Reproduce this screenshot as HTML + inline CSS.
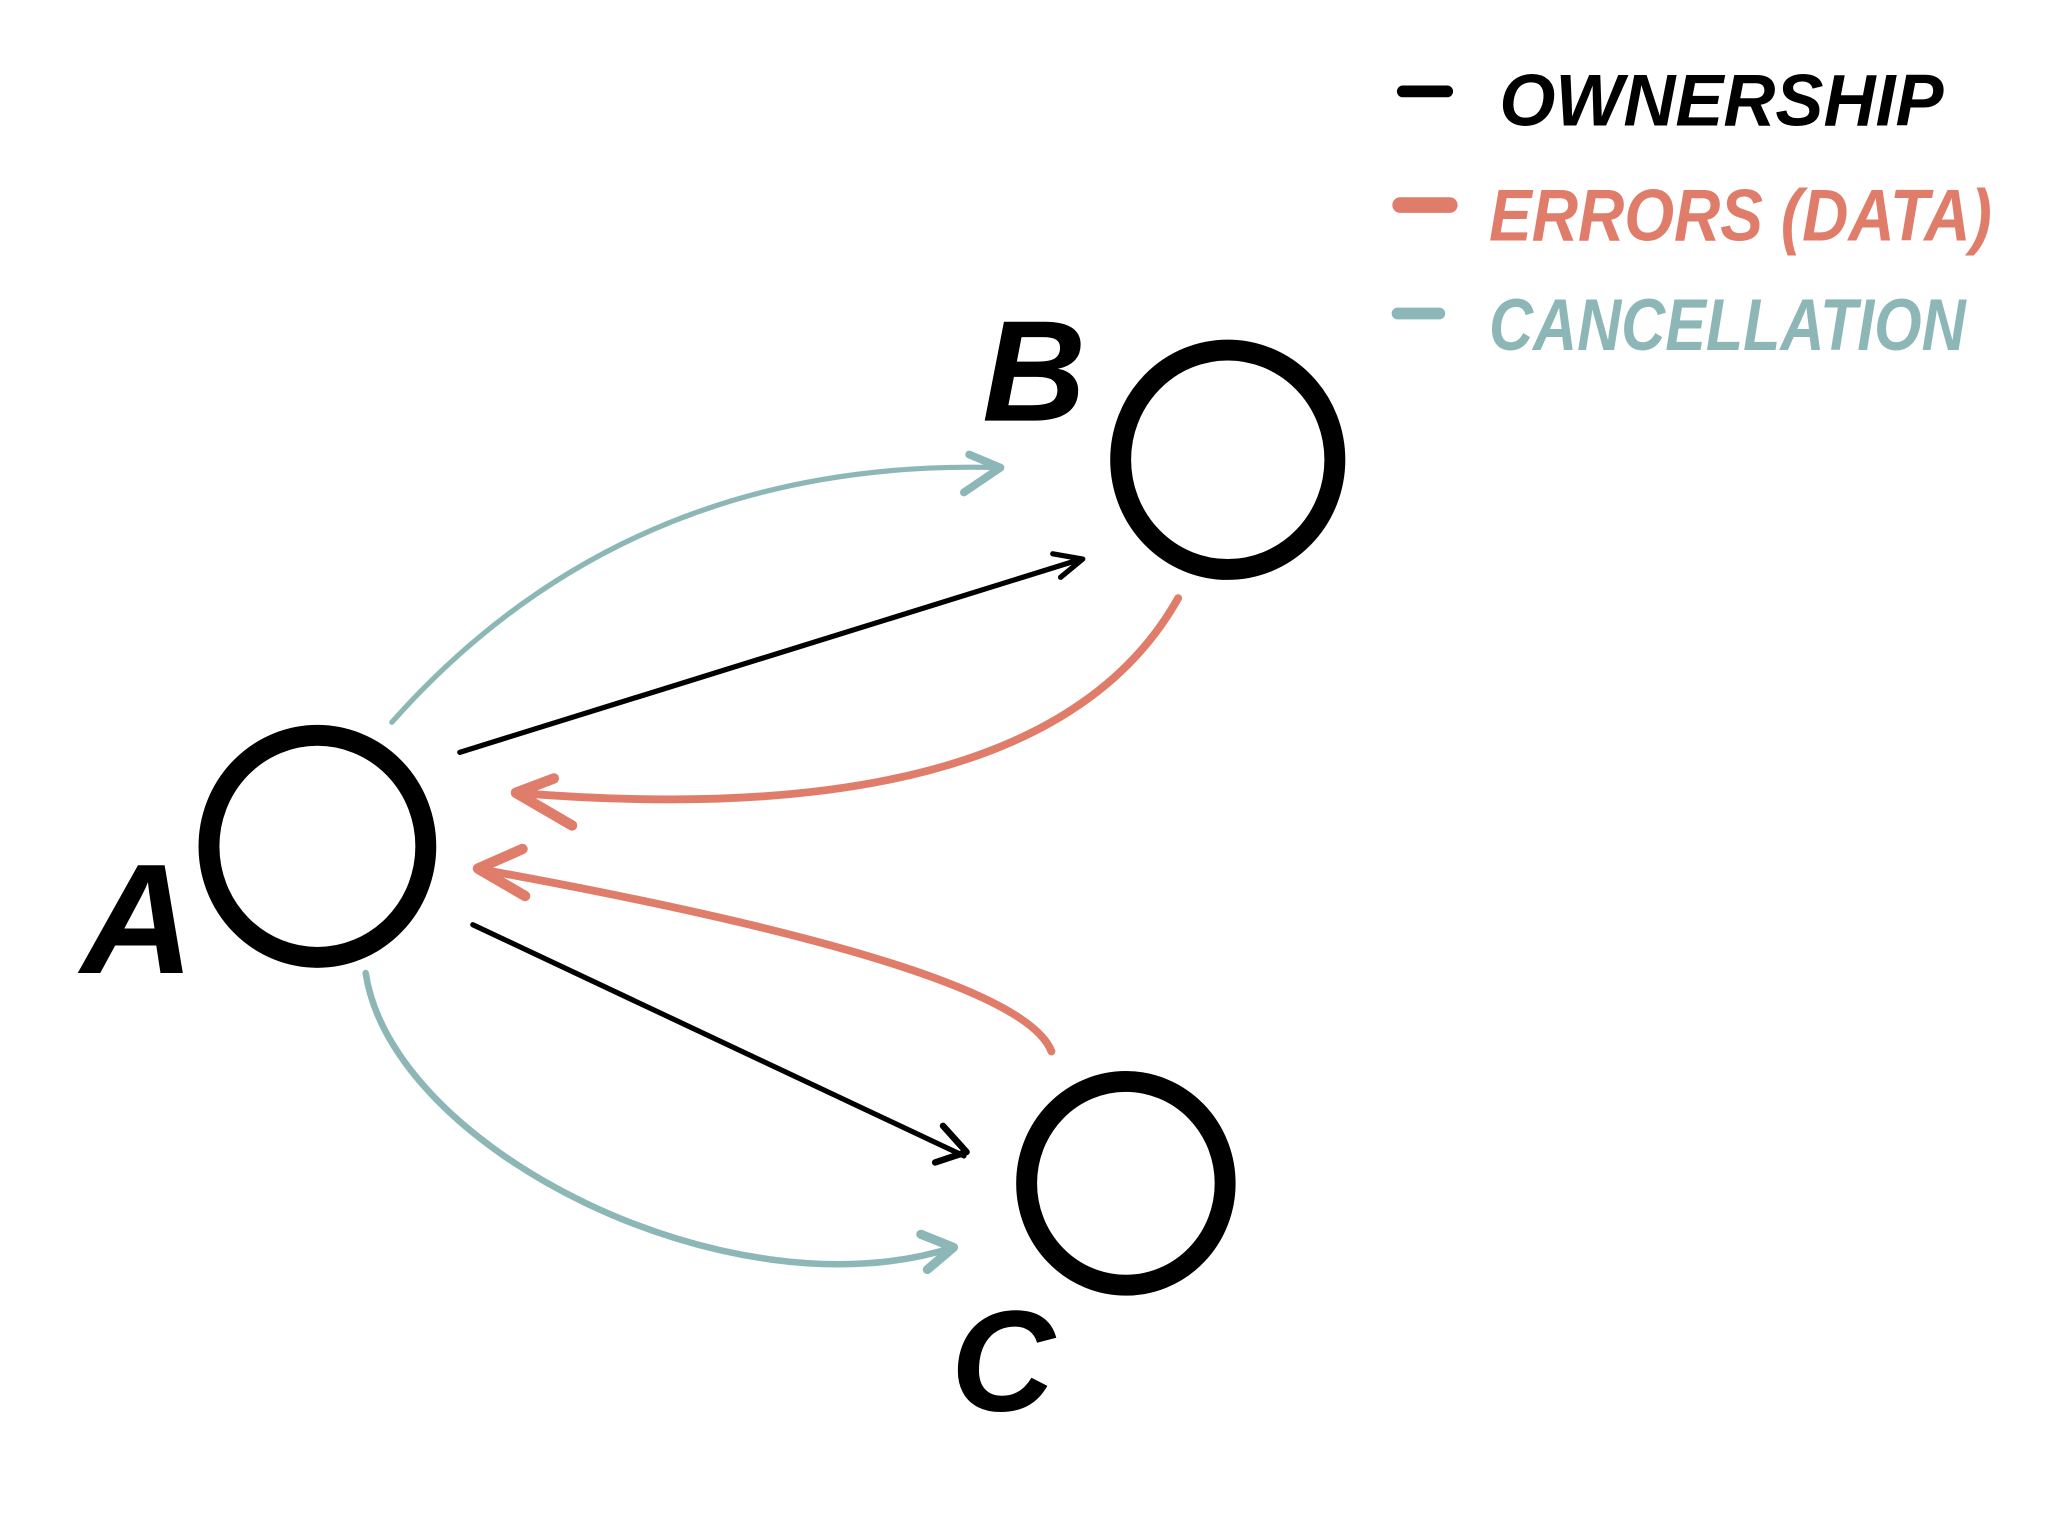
<!DOCTYPE html>
<html><head><meta charset="utf-8"><style>
html,body{margin:0;padding:0;background:#fff;width:2048px;height:1536px;overflow:hidden}
svg{display:block}
text{font-family:"Liberation Sans",sans-serif;font-weight:bold;font-style:italic}
</style></head><body>
<svg width="2048" height="1536" viewBox="0 0 1568 1176" xmlns="http://www.w3.org/2000/svg">
<rect width="1568" height="1176" fill="#fff"/>
<path d="M1074 70 L1108 70" stroke="#000" stroke-width="9" stroke-linecap="round"/>
<path d="M1072 157 L1110 157" stroke="#e07c6a" stroke-width="12" stroke-linecap="round"/>
<path d="M1070 240 L1102 240" stroke="#8db7b7" stroke-width="9" stroke-linecap="round"/>
<text x="1148" y="96" font-size="56" fill="#000" textLength="340" lengthAdjust="spacingAndGlyphs">OWNERSHIP</text>
<text x="1140" y="184" font-size="56" fill="#e07c6a" textLength="385" lengthAdjust="spacingAndGlyphs">ERRORS (DATA)</text>
<text x="1140" y="268" font-size="56" fill="#8db7b7" textLength="365" lengthAdjust="spacingAndGlyphs">CANCELLATION</text>
<ellipse cx="243" cy="648" rx="83" ry="85" fill="none" stroke="#000" stroke-width="16"/>
<ellipse cx="940" cy="352" rx="82" ry="84" fill="none" stroke="#000" stroke-width="16"/>
<ellipse cx="862" cy="906" rx="76" ry="78" fill="none" stroke="#000" stroke-width="16"/>
<text x="62" y="745" font-size="120" fill="#000">A</text>
<text x="752" y="322" font-size="110" fill="#000">B</text>
<text x="728" y="1080" font-size="110" fill="#000">C</text>
<g fill="none" stroke-linecap="round" stroke-linejoin="round">
<path d="M300 553 Q480 350 765 358" stroke="#8db7b7" stroke-width="4"/>
<path d="M742 348 L766 358 L738 377" stroke="#8db7b7" stroke-width="6"/>
<path d="M352 576 L828 428" stroke="#000" stroke-width="4"/>
<path d="M806 424 L829 428 L812 442" stroke="#000" stroke-width="4"/>
<path d="M902 458 Q800 640 395 607" stroke="#e07c6a" stroke-width="6"/>
<path d="M424 596 L395 607 L438 632" stroke="#e07c6a" stroke-width="8"/>
<path d="M805 805 Q780 740 365 665" stroke="#e07c6a" stroke-width="6"/>
<path d="M400 650 L366 665 L402 686" stroke="#e07c6a" stroke-width="8"/>
<path d="M362 708 L738 885" stroke="#000" stroke-width="4"/>
<path d="M722 862 L740 882 L716 890" stroke="#000" stroke-width="5"/>
<path d="M280 745 C300 880 560 1010 730 955" stroke="#8db7b7" stroke-width="5"/>
<path d="M705 945 L730 955 L710 972" stroke="#8db7b7" stroke-width="7"/>
</g>
</svg>
</body></html>
